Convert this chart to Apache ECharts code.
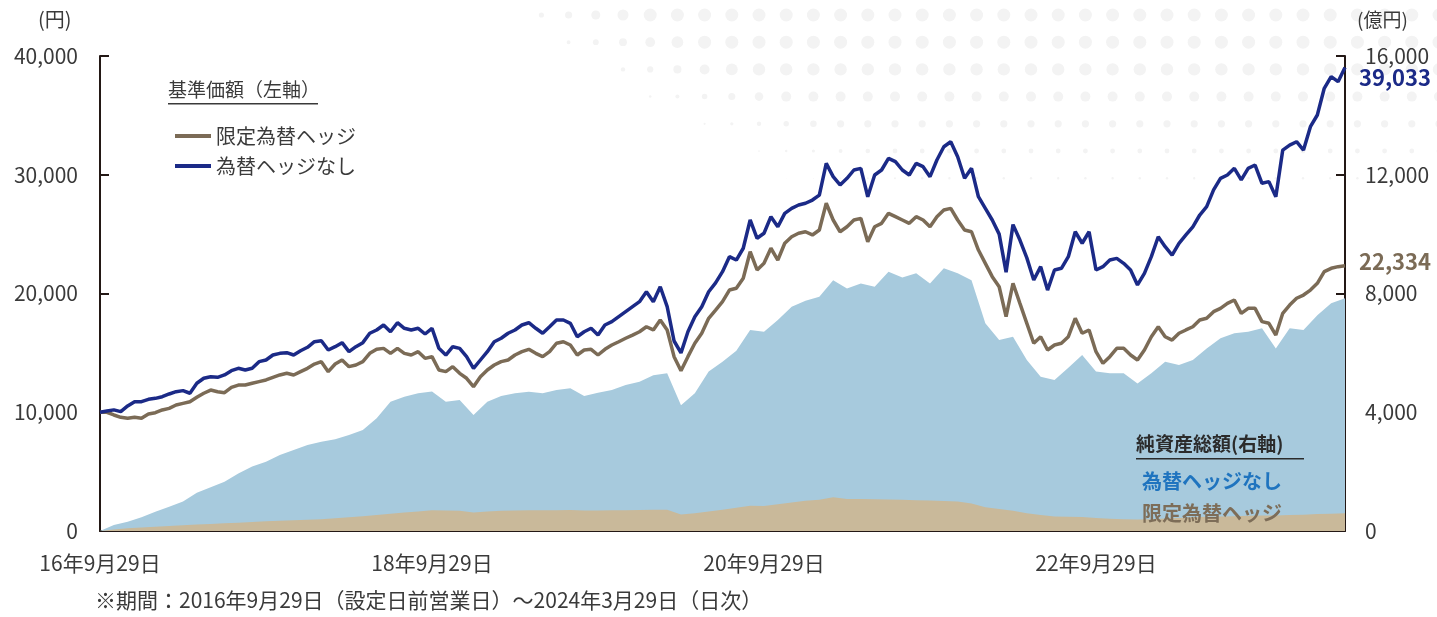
<!DOCTYPE html>
<html lang="ja">
<head>
<meta charset="UTF-8">
<title>基準価額・純資産総額の推移</title>
<script src="https://cdn.jsdelivr.net/npm/echarts@6/dist/echarts.min.js"></script>
<style>
  html, body { margin: 0; padding: 0; background: #fff; }
  #main { width: 1437px; height: 617px; }
</style>
</head>
<body>
<div id="main"></div>
<script>
// half-monthly dates for the price lines, monthly dates for net assets
function monthDate(i, day) {
  const y = 2016 + Math.floor((8 + i) / 12);
  const m = (8 + i) % 12 + 1;
  const d = (m === 2 && day > 28) ? (y % 4 === 0 ? 29 : 28) : day;
  return y + '/' + m + '/' + d;
}
const navDates = [];
for (let h = 0; h <= 180; h++) {
  navDates.push(h % 2 === 0 ? monthDate(h / 2, 29) : monthDate((h + 1) / 2, 14));
}
const aumDates = [];
for (let i = 0; i <= 90; i++) aumDates.push(monthDate(i, 29));

const xTickLabels = { 0: '16年9月29日', 48: '18年9月29日', 96: '20年9月29日', 144: '22年9月29日' };

// 基準価額（円）
const navHedged = [
  10000, 10000, 9770, 9570, 9490, 9570, 9490, 9850, 9960, 10190,
  10330, 10610, 10750, 10890, 11260, 11600, 11870, 11730, 11650, 12100,
  12290, 12290, 12440, 12580, 12720, 12940, 13140, 13280, 13140, 13420,
  13700, 14060, 14260, 13420, 14060, 14400, 13840, 13980, 14260, 14960,
  15300, 15380, 14960, 15380, 14960, 14820, 15100, 14540, 14680, 13560,
  13420, 13840, 13280, 12860, 12150, 12990, 13560, 13980, 14260, 14400,
  14820, 15100, 15300, 14960, 14680, 15100, 15810, 15940, 15660, 14820,
  15240, 15300, 14820, 15300, 15660, 15940, 16230, 16500, 16780, 17200,
  16930, 17770, 16930, 14680, 13500, 14680, 15810, 16650, 17910, 18600,
  19310, 20290, 20440, 21280, 23520, 21980, 22540, 23810, 22820, 24230,
  24780, 25070, 25200, 24930, 25350, 27600, 26190, 25200, 25620, 26190,
  26330, 24360, 25620, 25910, 26750, 26470, 26190, 25910, 26470, 26190,
  25620, 26470, 27030, 27170, 26190, 25350, 25200, 23660, 22540, 21420,
  20570, 18050, 20860, 19170, 17490, 15810, 16360, 15240, 15660, 15810,
  16360, 17910, 16650, 16930, 15100, 14120, 14680, 15380, 15380, 14820,
  14400, 15240, 16360, 17200, 16360, 16080, 16650, 16930, 17200, 17770,
  17910, 18470, 18750, 19170, 19450, 18330, 18750, 18750, 17630, 17490,
  16500, 18330, 19030, 19600, 19870, 20290, 20860, 21840, 22120, 22260,
  22334
];
const navUnhedged = [
  10000, 10100, 10200, 10050, 10530, 10890, 10890, 11090, 11170, 11310,
  11540, 11730, 11820, 11600, 12440, 12860, 12990, 12940, 13140, 13500,
  13700, 13560, 13700, 14260, 14400, 14820, 14960, 15020, 14820, 15180,
  15470, 15940, 16020, 15240, 15520, 15860, 15100, 15520, 15860, 16650,
  16930, 17350, 16780, 17540, 17070, 16930, 17070, 16590, 17070, 15380,
  14820, 15520, 15380, 14680, 13700, 14400, 15100, 15940, 16230, 16650,
  16930, 17350, 17540, 17070, 16650, 17200, 17770, 17770, 17490, 16360,
  16780, 17070, 16500, 17350, 17630, 18050, 18470, 18890, 19310, 20150,
  19310, 20570, 18890, 16000, 15000, 16780, 18050, 18890, 20150, 20900,
  21840, 23100, 22820, 23810, 26190, 24650, 25070, 26470, 25620, 26750,
  27170, 27450, 27600, 27870, 28290, 30960, 29840, 29140, 29700, 30400,
  30540, 28150, 29980, 30400, 31380, 31100, 30400, 29980, 30960, 30680,
  29840, 31240, 32360, 32780, 31520, 29700, 30540, 28150, 27170, 26190,
  25000, 21800, 25800, 24500, 23000, 21140, 22260, 20290, 21980, 22120,
  23100, 25200, 24230, 25200, 21980, 22260, 22820, 22960, 22540, 21980,
  20720, 21700, 23100, 24780, 23940, 23240, 24230, 24930, 25620, 26610,
  27310, 28720, 29700, 29980, 30540, 29560, 30540, 30820, 29280, 29420,
  28150, 32080, 32500, 32780, 32080, 34050, 35030, 37280, 38260, 37840,
  39033
];

// 純資産総額（億円）
const aumUnhedged = [
  0, 200, 310, 460, 650, 820, 990, 1290, 1470, 1660,
  1940, 2170, 2330, 2560, 2730, 2900, 3010, 3090, 3230, 3400,
  3800, 4350, 4520, 4640, 4700, 4350, 4410, 3910, 4350, 4550,
  4640, 4690, 4640, 4750, 4810, 4550, 4660, 4750, 4920, 5030,
  5250, 5310, 4240, 4640, 5370, 5700, 6070, 6770, 6710, 7110,
  7550, 7760, 7890, 8450, 8170, 8340, 8230, 8730, 8540, 8680,
  8340, 8850, 8680, 8450, 7000, 6430, 6540, 5760, 5200, 5090,
  5500, 5930, 5370, 5310, 5310, 4970, 5310, 5700, 5590, 5760,
  6150, 6490, 6660, 6710, 6830, 6150, 6830, 6770, 7270, 7670,
  7840
];
const aumHedged = [
  0, 50, 90, 120, 145, 170, 195, 215, 235, 260,
  280, 300, 325, 345, 365, 380, 400, 430, 460, 500,
  540, 580, 620, 660, 700, 690, 680, 620, 660, 680,
  690, 700, 700, 700, 710, 690, 690, 700, 700, 710,
  720, 720, 560, 600, 660, 720, 780, 850, 840, 900,
  960, 1020, 1050, 1140, 1080, 1080, 1070, 1060, 1050, 1040,
  1030, 1010, 990, 930, 800, 740, 680, 600, 540, 490,
  480, 470, 440, 410, 400, 390, 400, 420, 440, 460,
  480, 490, 500, 510, 520, 520, 540, 550, 570, 580,
  600
];

const FONT = '"Noto Sans CJK JP", "Noto Sans", sans-serif';
const TEXT = '#3a3a3a';
const AXIS = '#231815';
const NAVY = '#1b2a87';
const BROWN = '#7b6b56';

const fmt = v => Number(v).toLocaleString('en-US');

// faint dot pattern in the upper right background
const dots = [];
for (let j = 0; j < 7; j++) {
  const y = 15 + j * 27.2;
  const rowMax = [6.5, 6.5, 6.2, 5, 3.6, 2.4, 1.2][j];
  const start = 515 + j * 45;
  for (let x = 1439; x >= start; x -= 27.2) {
    const r = rowMax * Math.min(1, (x - start) / 180 + 0.25);
    dots.push({ type: 'circle', z: -10, silent: true, shape: { cx: x, cy: y, r: r }, style: { fill: '#f3f3f3' } });
  }
}

const chart = echarts.init(document.getElementById('main'));

chart.setOption({
  animation: false,
  textStyle: { fontFamily: FONT },
  grid: { left: 100, right: 92, top: 56, bottom: 86 },
  legend: {
    data: ['限定為替ヘッジ', '為替ヘッジなし'],
    orient: 'vertical',
    left: 170,
    top: 121,
    icon: 'rect',
    itemWidth: 36,
    itemHeight: 4,
    itemGap: 10,
    textStyle: { fontSize: 20, color: TEXT, fontFamily: FONT }
  },
  xAxis: [
    {
      type: 'category',
      data: navDates,
      boundaryGap: false,
      axisLine: { lineStyle: { color: AXIS, width: 2 } },
      axisTick: {
        inside: true, length: 9,
        lineStyle: { color: AXIS, width: 2 },
        interval: idx => idx > 0 && idx % 48 === 0
      },
      axisLabel: {
        interval: idx => idx % 48 === 0,
        formatter: (v, idx) => xTickLabels[idx] || '',
        fontSize: 21, color: TEXT, margin: 22
      },
      splitLine: { show: false }
    },
    {
      type: 'category',
      data: aumDates,
      boundaryGap: false,
      show: false
    }
  ],
  yAxis: [
    {
      type: 'value', min: 0, max: 40000, interval: 10000,
      axisLine: { show: true, lineStyle: { color: AXIS, width: 2 } },
      axisTick: { show: true, inside: true, length: 9, lineStyle: { color: AXIS, width: 2 } },
      axisLabel: { formatter: fmt, fontSize: 21, color: TEXT, margin: 22 },
      splitLine: { show: false }
    },
    {
      type: 'value', min: 0, max: 16000, interval: 4000, position: 'right',
      axisLine: { show: true, lineStyle: { color: AXIS, width: 2 } },
      axisTick: { show: true, inside: true, length: 9, lineStyle: { color: AXIS, width: 2 } },
      axisLabel: { formatter: fmt, fontSize: 21, color: TEXT, margin: 20 },
      splitLine: { show: false }
    }
  ],
  series: [
    {
      name: '純資産総額（為替ヘッジなし）',
      type: 'line', xAxisIndex: 1, yAxisIndex: 1, data: aumUnhedged,
      showSymbol: false, lineStyle: { width: 0 },
      areaStyle: { color: '#a7cadd', opacity: 1 }, z: 1
    },
    {
      name: '純資産総額（限定為替ヘッジ）',
      type: 'line', xAxisIndex: 1, yAxisIndex: 1, data: aumHedged,
      showSymbol: false, lineStyle: { width: 0 },
      areaStyle: { color: '#c9b99a', opacity: 1 }, z: 2
    },
    {
      name: '限定為替ヘッジ',
      type: 'line', data: navHedged,
      showSymbol: false, color: BROWN,
      lineStyle: { color: BROWN, width: 3.5 }, z: 3,
      endLabel: {
        show: true, formatter: p => fmt(p.value), offset: [6, -4],
        color: BROWN, fontSize: 22, fontWeight: 'bold', fontFamily: FONT
      }
    },
    {
      name: '為替ヘッジなし',
      type: 'line', data: navUnhedged,
      showSymbol: false, color: NAVY,
      lineStyle: { color: NAVY, width: 3.5 }, z: 4,
      endLabel: {
        show: true, formatter: p => fmt(p.value), offset: [6, 10],
        color: NAVY, fontSize: 22, fontWeight: 'bold', fontFamily: FONT
      }
    }
  ],
  graphic: dots.concat([
    { type: 'text', left: 38, top: 9, style: { text: '(円)', fontSize: 20, fill: TEXT, fontFamily: FONT } },
    { type: 'text', left: 1357, top: 10, style: { text: '(億円)', fontSize: 19, fill: TEXT, fontFamily: FONT } },
    { type: 'text', left: 168, top: 80, style: { text: '基準価額（左軸）', fontSize: 19, fill: TEXT, fontFamily: FONT } },
    { type: 'rect', left: 168, top: 103, shape: { width: 150, height: 1.5 }, style: { fill: TEXT } },
    { type: 'text', left: 1136, top: 434, z: 10, style: { text: '純資産総額(右軸)', fontSize: 19, fontWeight: 'bold', fill: '#2b2b2b', fontFamily: FONT } },
    { type: 'rect', left: 1136, top: 458, z: 10, shape: { width: 168, height: 1.5 }, style: { fill: '#2b2b2b' } },
    { type: 'text', left: 1142, top: 471, z: 10, style: { text: '為替ヘッジなし', fontSize: 20, fontWeight: 'bold', fill: '#1f74bf', fontFamily: FONT } },
    { type: 'text', left: 1142, top: 503, z: 10, style: { text: '限定為替ヘッジ', fontSize: 20, fontWeight: 'bold', fill: '#7d6d58', fontFamily: FONT } },
    { type: 'text', left: 95, top: 590, style: { text: '※期間：2016年9月29日（設定日前営業日）～2024年3月29日（日次）', fontSize: 21, fill: TEXT, fontFamily: FONT } }
  ])
});
</script>
</body>
</html>
